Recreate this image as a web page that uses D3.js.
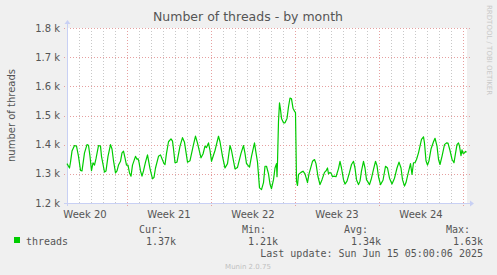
<!DOCTYPE html>
<html><head><meta charset="utf-8">
<script src="https://cdn.jsdelivr.net/npm/d3@7"></script>
<style>body{margin:0;background:#f0f0f0}svg{display:block}</style>
</head><body>
<svg id="c" width="497" height="275"></svg>
<script>
// ---- data (hours since graph start, threads) ----
const hours = [0,3,5,7,10,15,19,23,27,30,
35,40,43,46,49,52,55,58,63,67,
69,75,78,82,87,90,93,97,100,103,
107,110,113,116,119,122,125,128,131,137,
140,142,144,147,150,153,157,161,166,171,
174,177,183,187,190,194,196,199,203,208,
211,213,216,220,226,231,235,241,246,253,
257,261,268,272,276,279,283,286,289,296,
303,306,311,316,321,326,329,336,341,348,
353,356,359,365,369,375,377,381,385,389,
393,396,399,403,406,409,413,416,419,420,
421,423,425,427,429,433,436,440,443,446,
449,452,455,457,459,461,463,468,472,476,
481,484,491,495,498,502,506,510,515,518,
521,523,526,529,531,534,538,543,546,549,
553,556,560,565,569,573,576,579,583,586,
589,593,596,599,605,609,613,617,620,623,
627,632,637,641,645,650,655,660,664,668,
671,675,678,682,687,690,693,696,699,703,
706,709,713,715,718,721,724,728,733,736,
740,743,746,750,755,759,762,766,770,774,
777,780,783,785,788,790,792,795,797,799];
const threads = [1335,1326,1320,1340,1378,1397,1395,1360,1312,1310,
1372,1400,1398,1360,1311,1338,1330,1352,1397,1395,
1360,1306,1310,1360,1400,1385,1345,1303,1310,1330,
1343,1372,1378,1355,1330,1330,1303,1292,1330,1360,
1350,1352,1340,1310,1292,1310,1340,1365,1318,1283,
1288,1320,1360,1365,1352,1335,1332,1370,1410,1420,
1412,1385,1338,1340,1395,1424,1408,1340,1345,1400,
1429,1405,1355,1368,1395,1390,1406,1380,1343,1380,
1429,1410,1360,1320,1335,1397,1380,1317,1322,1370,
1397,1370,1335,1323,1360,1406,1383,1340,1252,1246,
1270,1326,1326,1300,1265,1249,1280,1320,1335,1290,
1340,1480,1543,1520,1490,1475,1475,1490,1530,1560,
1557,1525,1515,1510,1275,1260,1298,1305,1309,1300,
1270,1300,1343,1349,1335,1290,1263,1280,1305,1310,
1320,1300,1305,1300,1290,1292,1290,1318,1343,1320,
1280,1265,1275,1305,1332,1343,1320,1280,1263,1275,
1310,1343,1320,1280,1263,1285,1315,1343,1328,1290,
1263,1278,1326,1320,1285,1265,1285,1320,1340,1320,
1280,1258,1270,1300,1335,1298,1338,1338,1349,1372,
1395,1418,1427,1405,1345,1330,1345,1385,1410,1422,
1395,1350,1332,1360,1400,1406,1405,1380,1350,1338,
1370,1400,1406,1395,1362,1382,1370,1372,1377,1374];
const yTicks = [1200,1300,1400,1500,1600,1700,1800];
const yTickLabels = ["1.2 k","1.3 k","1.4 k","1.5 k","1.6 k","1.7 k","1.8 k"];
const weekDays = [5,12,19,26,33];           // week boundaries (days from start)
const weekLabels = ["Week 20","Week 21","Week 22","Week 23","Week 24"];
const legendHeads = ["Cur:","Min:","Avg:","Max:"];
const legendVals = ["1.37k","1.21k","1.34k","1.63k"];
const seriesName = "threads";

const svg = d3.select("#c");
const L=67, R=467, T=28, B=203;
const x = d3.scaleLinear().domain([0, 800/24]).range([L, R]);
const y = d3.scaleLinear().domain([1200, 1800]).range([B, T]);

svg.append("rect").attr("width",497).attr("height",275).attr("fill","#f0f0f0");
svg.append("rect").attr("x",L).attr("y",T).attr("width",R-L).attr("height",B-T).attr("fill","#ffffff");

// minor vertical grid (days)
const days = d3.range(1,34).filter(d=>!weekDays.includes(d));
svg.append("g").selectAll("line").data(days).join("line")
  .attr("x1",d=>Math.round(x(d))+0.5).attr("x2",d=>Math.round(x(d))+0.5)
  .attr("y1",T).attr("y2",B)
  .attr("stroke","#c8c8c8").attr("stroke-width",1).attr("stroke-dasharray","1,2");
// major vertical grid (weeks)
svg.append("g").selectAll("line").data(weekDays).join("line")
  .attr("x1",d=>Math.round(x(d))+0.5).attr("x2",d=>Math.round(x(d))+0.5)
  .attr("y1",T).attr("y2",B+3)
  .attr("stroke","#e6a0a0").attr("stroke-width",1).attr("stroke-dasharray","1,2");
// horizontal major grid
svg.append("g").selectAll("line").data(yTicks.slice(1)).join("line")
  .attr("x1",L-3).attr("x2",R+3)
  .attr("y1",d=>Math.round(y(d))+0.5).attr("y2",d=>Math.round(y(d))+0.5)
  .attr("stroke","#e6a0a0").attr("stroke-width",1).attr("stroke-dasharray","1,2");

// axes (lavender)
const ax="#c8d0f4";
svg.append("line").attr("x1",L-3).attr("x2",R+3).attr("y1",B+0.5).attr("y2",B+0.5).attr("stroke",ax);
svg.append("line").attr("x1",L+0.5).attr("x2",L+0.5).attr("y1",T-5).attr("y2",B+3).attr("stroke",ax);
svg.append("path").attr("d",`M${R+3},${B-2.5}L${R+7},${B+0.5}L${R+3},${B+3.5}Z`).attr("fill",ax);
svg.append("path").attr("d",`M${L-2.5},${T-4}L${L+0.5},${T-8}L${L+3.5},${T-4}Z`).attr("fill",ax);

// y tick labels
svg.append("g").selectAll("text").data(yTicks).join("text")
  .attr("x",L-7).attr("y",d=>y(d)+3.5).attr("text-anchor","end")
  .attr("font-family","DejaVu Sans").attr("font-size",10).attr("fill","#555")
  .text((d,i)=>yTickLabels[i]);
// x labels
svg.append("g").selectAll("text").data(weekDays).join("text")
  .attr("x",d=>x(d-3.5)).attr("y",B+15).attr("text-anchor","middle")
  .attr("font-family","DejaVu Sans").attr("font-size",10).attr("fill","#555")
  .text((d,i)=>weekLabels[i]);

// line
const pts = hours.map((h,i)=>[h/24, threads[i]]);
svg.append("path").datum(pts)
  .attr("d", d3.line().x(d=>x(d[0])).y(d=>y(d[1])))
  .attr("fill","none").attr("stroke","#00cc00").attr("stroke-width",1.2).attr("stroke-linejoin","round");

// title
svg.append("text").attr("x",248).attr("y",21).attr("text-anchor","middle")
  .attr("font-family","DejaVu Sans").attr("font-size",12.5).attr("fill","#555")
  .text("Number of threads - by month");
// y axis title
svg.append("text").attr("transform",`translate(15,${(T+B)/2}) rotate(-90)`).attr("text-anchor","middle")
  .attr("font-family","DejaVu Sans").attr("font-size",10).attr("fill","#555")
  .text("number of threads");
// watermark
svg.append("text").attr("transform","translate(487,5) rotate(90)")
  .attr("font-family","DejaVu Sans").attr("font-size",7).attr("fill","#c8c8c8")
  .text("RRDTOOL / TOBI OETIKER");

// legend
svg.append("rect").attr("x",14).attr("y",237).attr("width",6).attr("height",6).attr("fill","#00cc00");
const mono = "DejaVu Sans Mono";
svg.append("text").attr("x",26).attr("y",245).attr("font-family",mono).attr("font-size",10).attr("fill","#555").text(seriesName);
const headX=[163,266,368,470], valX=[176,278,381,483];
legendHeads.forEach((h,i)=>{
  svg.append("text").attr("x",headX[i]).attr("y",233).attr("text-anchor","end").attr("font-family",mono).attr("font-size",10).attr("fill","#555").text(h);
  svg.append("text").attr("x",valX[i]).attr("y",245).attr("text-anchor","end").attr("font-family",mono).attr("font-size",10).attr("fill","#555").text(legendVals[i]);
});
svg.append("text").attr("x",483).attr("y",257).attr("text-anchor","end").attr("font-family",mono).attr("font-size",10).attr("fill","#555").text("Last update: Sun Jun 15 05:00:06 2025");
svg.append("text").attr("x",248).attr("y",269).attr("text-anchor","middle").attr("font-family","DejaVu Sans").attr("font-size",7).attr("fill","#c0c0c0").text("Munin 2.0.75");
</script>
</body></html>
